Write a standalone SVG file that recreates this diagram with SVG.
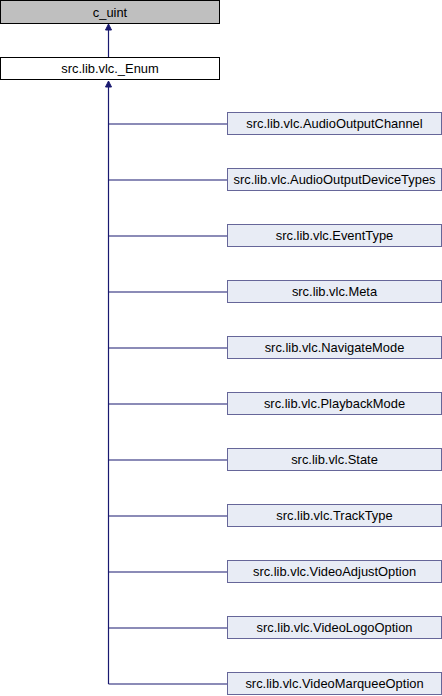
<svg xmlns="http://www.w3.org/2000/svg" width="442" height="696" viewBox="0 0 442 696">
<style>
text{font-family:"Liberation Sans",Arial,sans-serif;font-size:12.9px;text-anchor:middle;fill:#000}
.base{fill:#bfbfbf;stroke:#000;stroke-width:1}
.enum{fill:#fff;stroke:#000;stroke-width:1}
.child{fill:#e8ecf5;stroke:#666699;stroke-width:1}
.edge{stroke:#191970;stroke-width:1.2;fill:none}
.head{fill:#191970;stroke:#191970}
</style>
<rect width="442" height="696" fill="#fff"/>
<g id="edges">
<path class="edge" d="M108.5,57V30"/>
<polygon class="head" points="108.5,24 105.5,30 111.5,30"/>
<path class="edge" d="M108.5,684V87"/>
<polygon class="head" points="108.5,81 105.5,87 111.5,87"/>
<path class="edge" d="M108.5,124H227.5M108.5,180H227.5M108.5,236H227.5M108.5,292H227.5M108.5,348H227.5M108.5,404H227.5M108.5,460H227.5M108.5,516H227.5M108.5,572H227.5M108.5,628H227.5M108.5,684H227.5"/>
</g>
<g id="c_uint"><rect class="base" x="0.5" y="0.5" width="219" height="23"/><text x="110" y="16.5">c_uint</text></g>
<g id="Enum"><rect class="enum" x="0.5" y="57.5" width="219" height="22"/><text x="110" y="73">src.lib.vlc._Enum</text></g>
<g id="AudioOutputChannel"><rect class="child" x="227.5" y="112.5" width="214" height="22"/><text x="334.5" y="128">src.lib.vlc.AudioOutputChannel</text></g>
<g id="AudioOutputDeviceTypes"><rect class="child" x="227.5" y="168.5" width="214" height="22"/><text x="334.5" y="184">src.lib.vlc.AudioOutputDeviceTypes</text></g>
<g id="EventType"><rect class="child" x="227.5" y="224.5" width="214" height="22"/><text x="334.5" y="240">src.lib.vlc.EventType</text></g>
<g id="Meta"><rect class="child" x="227.5" y="280.5" width="214" height="22"/><text x="334.5" y="296">src.lib.vlc.Meta</text></g>
<g id="NavigateMode"><rect class="child" x="227.5" y="336.5" width="214" height="22"/><text x="334.5" y="352">src.lib.vlc.NavigateMode</text></g>
<g id="PlaybackMode"><rect class="child" x="227.5" y="392.5" width="214" height="22"/><text x="334.5" y="408">src.lib.vlc.PlaybackMode</text></g>
<g id="State"><rect class="child" x="227.5" y="448.5" width="214" height="22"/><text x="334.5" y="464">src.lib.vlc.State</text></g>
<g id="TrackType"><rect class="child" x="227.5" y="504.5" width="214" height="22"/><text x="334.5" y="520">src.lib.vlc.TrackType</text></g>
<g id="VideoAdjustOption"><rect class="child" x="227.5" y="560.5" width="214" height="22"/><text x="334.5" y="576">src.lib.vlc.VideoAdjustOption</text></g>
<g id="VideoLogoOption"><rect class="child" x="227.5" y="616.5" width="214" height="22"/><text x="334.5" y="632">src.lib.vlc.VideoLogoOption</text></g>
<g id="VideoMarqueeOption"><rect class="child" x="227.5" y="672.5" width="214" height="22"/><text x="334.5" y="688">src.lib.vlc.VideoMarqueeOption</text></g>
</svg>
